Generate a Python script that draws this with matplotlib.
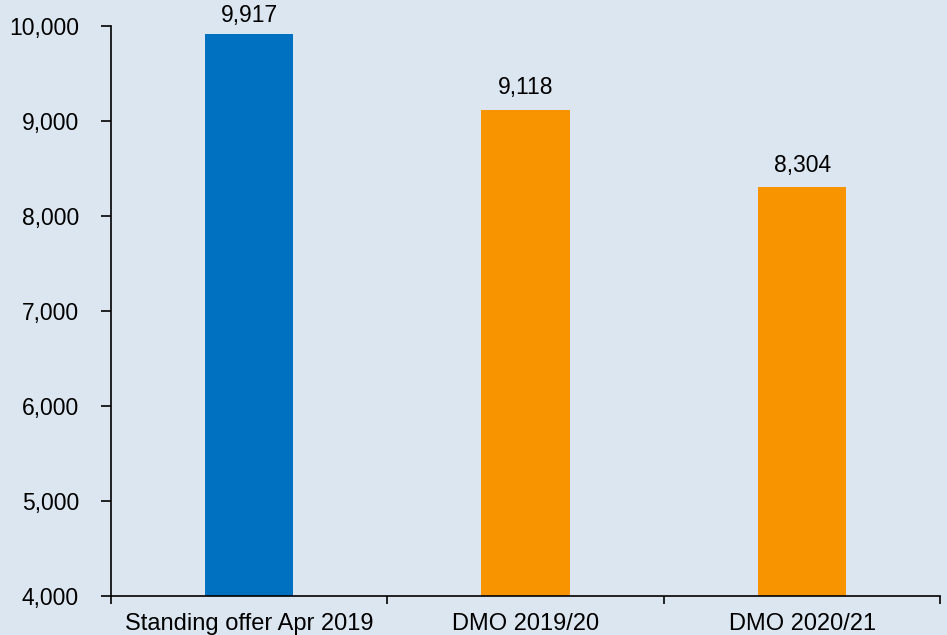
import numpy as np
import matplotlib.pyplot as plt

categories = ['Standing offer Apr 2019', 'DMO 2019/20', 'DMO 2020/21']
values = [9917, 9118, 8304]
colors = ['#0070C0', '#F79400', '#F79400']

bg = '#DCE6F0'
plt.rcParams['font.family'] = ['Liberation Sans', 'DejaVu Sans']

fig = plt.figure(figsize=(9.47, 6.35), dpi=100, facecolor=bg)
ax = fig.add_axes([0.117, 0.061, 0.876, 0.898], facecolor=bg)

x = np.arange(len(categories))
bars = ax.bar(x, values, width=0.32, color=colors, zorder=2)

# labels sit above bars, but are kept inside the top of the plot area
for xi, v in zip(x, values):
    ax.text(xi, min(v + 110, 9990), f'{v:,}', ha='center', va='bottom', fontsize=16.5)

ax.set_ylim(4000, 10000)
ax.set_yticks(np.arange(4000, 10001, 1000))
ax.set_yticklabels([f'{t:,}' for t in range(4000, 10001, 1000)], fontsize=16.5)
ax.set_xlim(-0.5, len(categories) - 0.5)
ax.set_xticks(x)
ax.set_xticklabels(categories, fontsize=17)
ax.tick_params(axis='x', which='major', length=0, pad=12)
ax.set_xticks(np.arange(-0.5, len(categories), 1.0), minor=True)
ax.tick_params(axis='x', which='minor', length=6, width=1.2, direction='out')
ax.tick_params(axis='y', length=7, width=1.2, direction='out', pad=16)

for s in ['top', 'right']:
    ax.spines[s].set_visible(False)
for s in ['left', 'bottom']:
    ax.spines[s].set_linewidth(1.2)

fig.savefig('out.png', dpi=100, facecolor=bg)
